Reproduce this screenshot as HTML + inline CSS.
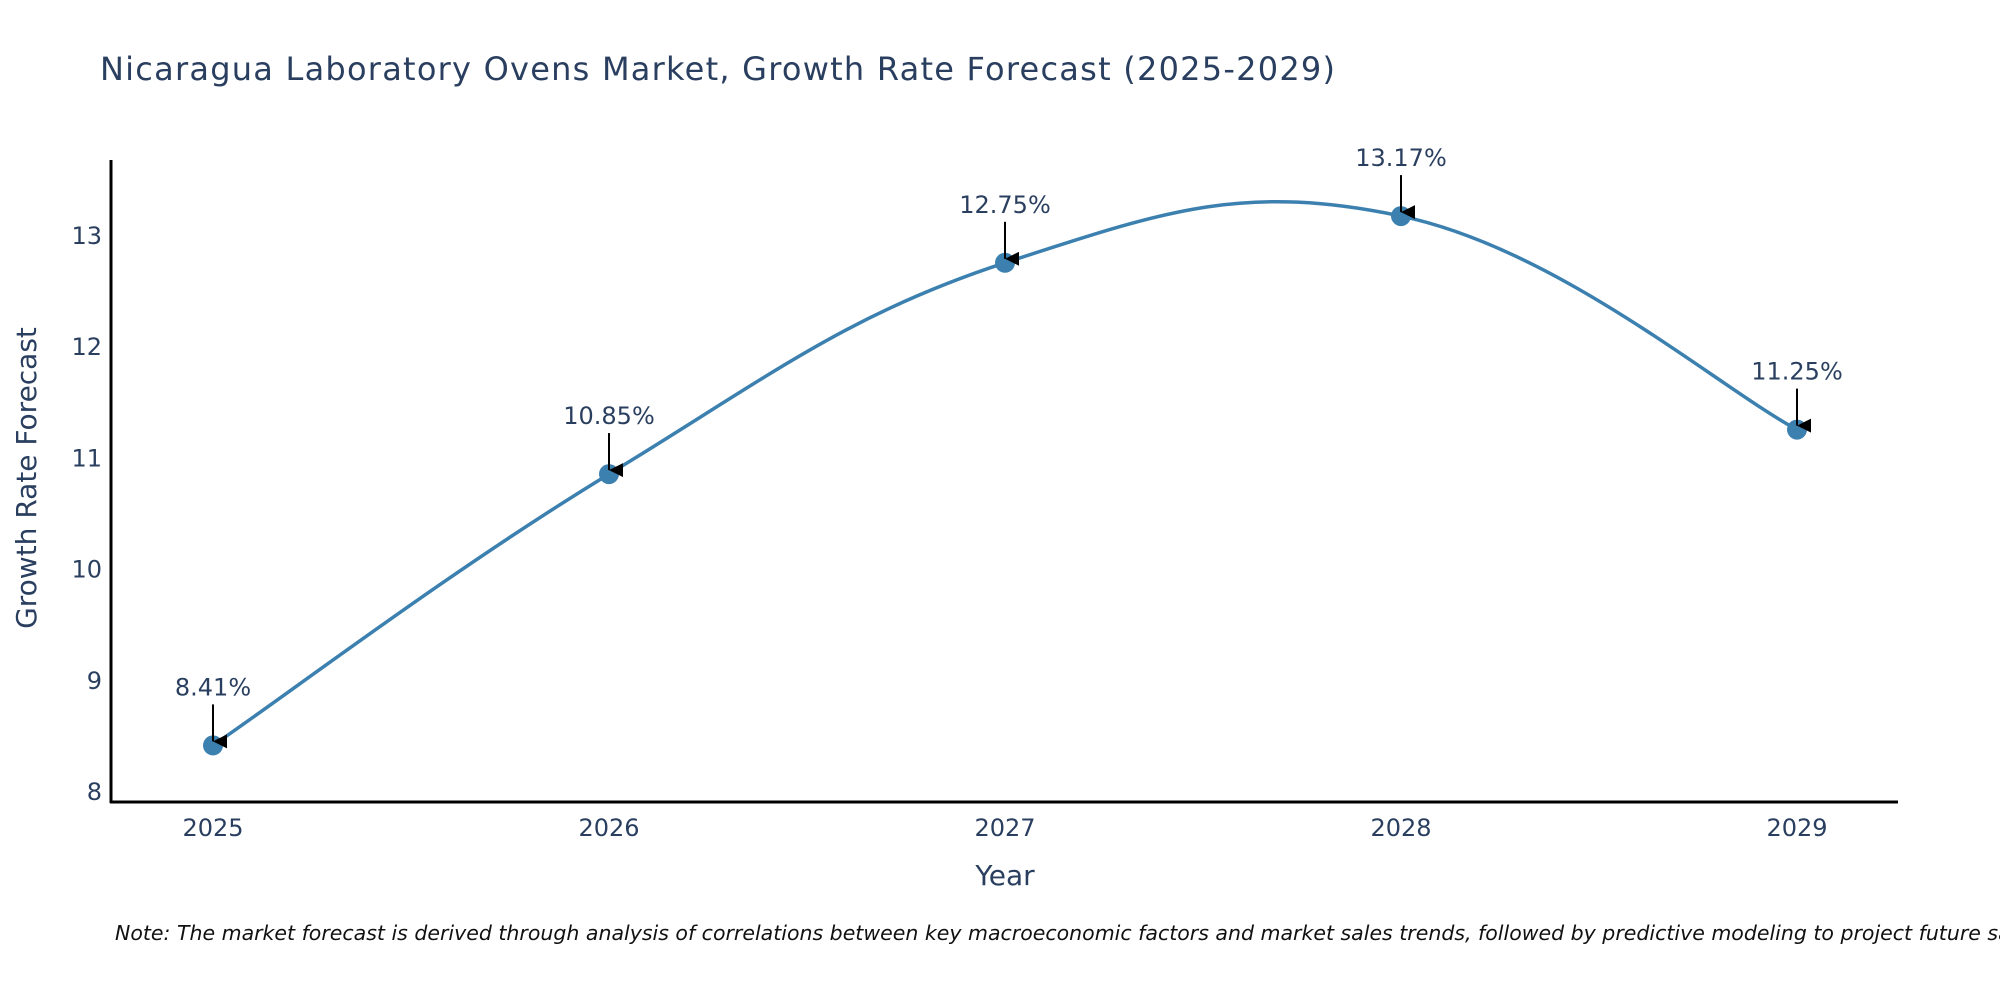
<!DOCTYPE html>
<html><head><meta charset="utf-8"><style>
html,body{margin:0;padding:0;background:#fff;}
svg text{font-family:"DejaVu Sans","Liberation Sans",sans-serif;fill:#2a3f5f;}
</style></head><body>
<svg id="chart" width="2000" height="1000" xmlns="http://www.w3.org/2000/svg">
<defs><marker id="arr" markerWidth="14" markerHeight="14" refX="7" refY="14" orient="auto" markerUnits="userSpaceOnUse" viewBox="0 0 14 14"><path d="M0,0 L14,0 L7,14 z" fill="#000"/></marker></defs>
<text x="100" y="80" font-size="32" textLength="1235">Nicaragua Laboratory Ovens Market, Growth Rate Forecast (2025-2029)</text>
<g id="yticks"></g><g id="xticks"></g>
<line x1="111" y1="160" x2="111" y2="803" stroke="#000" stroke-width="3"/>
<line x1="110" y1="802" x2="1898" y2="802" stroke="#000" stroke-width="3"/>
<path id="line" fill="none" stroke="#3c80b0" stroke-width="3.5"/>
<g id="marks"></g>
<text x="28" y="478" font-size="28" text-anchor="middle" transform="rotate(-90 28 478)" dominant-baseline="middle">Growth Rate Forecast</text>
<text x="1005" y="885" font-size="28" text-anchor="middle">Year</text>
<text x="115" y="940" font-size="20.5" font-style="italic" style="fill:#111">Note: The market forecast is derived through analysis of correlations between key macroeconomic factors and market sales trends, followed by predictive modeling to project future sales</text>
</svg>
<script>
const years=[2025,2026,2027,2028,2029];
const values=[8.41,10.85,12.75,13.17,11.25];
const labels=["8.41%","10.85%","12.75%","13.17%","11.25%"];
const yTicks=[8,9,10,11,12,13];
const NS="http://www.w3.org/2000/svg";
function xs(v){return 213+(v-2025)*396;}
function ys(v){return 791-(v-8)*111.2;}
function mk(tag,attrs,parent){const e=document.createElementNS(NS,tag);for(const k in attrs)e.setAttribute(k,attrs[k]);parent.appendChild(e);return e;}
const yg=document.getElementById('yticks');
yTicks.forEach(t=>{const e=mk('text',{x:102,y:ys(t)+9,'font-size':24,'text-anchor':'end'},yg);e.textContent=t;

});
const xg=document.getElementById('xticks');
years.forEach(y=>{const e=mk('text',{x:xs(y),y:836,'font-size':24,'text-anchor':'middle'},xg);e.textContent=y;

});
const P=years.map((y,i)=>[xs(y),ys(values[i])]);
let d='M'+P[0][0]+','+P[0][1];const k=1/5;
for(let i=0;i<P.length-1;i++){const p0=P[Math.max(0,i-1)],p1=P[i],p2=P[i+1],p3=P[Math.min(P.length-1,i+2)];
const c1=[p1[0]+(p2[0]-p0[0])*k,p1[1]+(p2[1]-p0[1])*k],c2=[p2[0]-(p3[0]-p1[0])*k,p2[1]-(p3[1]-p1[1])*k];
d+=' C'+c1+' '+c2+' '+p2;}
document.getElementById('line').setAttribute('d',d);
const mg=document.getElementById('marks');
P.forEach((p,i)=>{const c=mk('circle',{cx:p[0],cy:p[1],r:10,fill:'#3c80b0'},mg);


const a=mk('line',{x1:p[0],y1:p[1]-41,x2:p[0],y2:p[1]-4,stroke:'#000','stroke-width':2,'marker-end':'url(#arr)'},mg);


const t=mk('text',{x:p[0],y:p[1]-50,'font-size':24,'text-anchor':'middle'},mg);t.textContent=labels[i];

});
</script>
</body></html>
